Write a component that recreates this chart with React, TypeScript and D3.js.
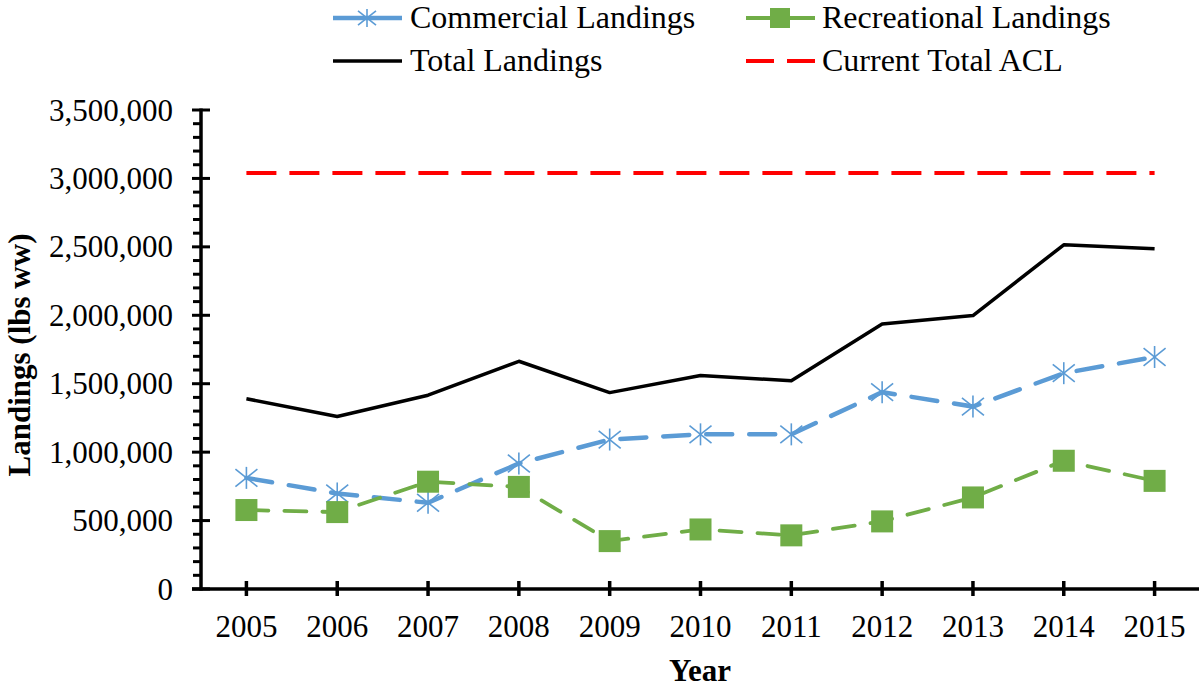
import * as d3 from "d3";
import { useEffect, useRef } from "react";

const years = ["2005", "2006", "2007", "2008", "2009", "2010", "2011", "2012", "2013", "2014", "2015"];
const commercial = [812000, 698000, 630000, 917000, 1092000, 1130000, 1130000, 1438000, 1333000, 1577000, 1695000];
const recreational = [577000, 562000, 784000, 746000, 350000, 435000, 392000, 494000, 669000, 937000, 790000];
const total = [1390000, 1260000, 1416000, 1664000, 1435000, 1560000, 1521000, 1937000, 1998000, 2515000, 2487000];
const acl = [3040000, 3040000, 3040000, 3040000, 3040000, 3040000, 3040000, 3040000, 3040000, 3040000, 3040000];
const yTicks = [0, 500000, 1000000, 1500000, 2000000, 2500000, 3000000, 3500000];

const W = 1199;
const H = 687;
const FONT = "'Liberation Serif', 'Times New Roman', serif";
const blue = "#5B9BD5";
const green = "#70AD47";

const App = () => {
	const ref = useRef<SVGSVGElement | null>(null);

	useEffect(() => {
		document.body.style.margin = "0";
		if (!ref.current) return;
		const svg = d3.select(ref.current);
		svg.selectAll("*").remove();

		const x = d3.scaleBand<string>().domain(years).range([201, 1200]);
		const cx = (d: string) => (x(d) ?? 0) + x.bandwidth() / 2;
		const y = d3.scaleLinear().domain([0, 3500000]).range([589, 110]);

		// minor ticks on the y axis
		const minor = d3.range(0, 3500001, 100000).filter((v) => v % 500000 !== 0);
		svg
			.append("g")
			.selectAll("line")
			.data(minor)
			.enter()
			.append("line")
			.attr("x1", 193)
			.attr("x2", 201)
			.attr("y1", (d) => y(d))
			.attr("y2", (d) => y(d))
			.attr("stroke", "#000")
			.attr("stroke-width", 3);

		// major ticks
		svg
			.append("g")
			.selectAll("line")
			.data(yTicks)
			.enter()
			.append("line")
			.attr("x1", 192)
			.attr("x2", 210)
			.attr("y1", (d) => y(d))
			.attr("y2", (d) => y(d))
			.attr("stroke", "#000")
			.attr("stroke-width", 3);

		svg
			.append("g")
			.selectAll("text")
			.data(yTicks)
			.enter()
			.append("text")
			.attr("x", 173)
			.attr("y", (d) => y(d))
			.attr("dy", "0.34em")
			.attr("text-anchor", "end")
			.style("font-family", FONT)
			.style("font-size", "31px")
			.text((d) => d3.format(",")(d));

		svg
			.append("line")
			.attr("x1", 201)
			.attr("x2", 201)
			.attr("y1", y(3500000) - 1.5)
			.attr("y2", y(0) + 1.5)
			.attr("stroke", "#000")
			.attr("stroke-width", 3.5);

		// x axis
		svg
			.append("line")
			.attr("x1", 192)
			.attr("x2", 1200)
			.attr("y1", y(0))
			.attr("y2", y(0))
			.attr("stroke", "#000")
			.attr("stroke-width", 3.5);

		svg
			.append("g")
			.selectAll("line")
			.data(years)
			.enter()
			.append("line")
			.attr("x1", cx)
			.attr("x2", cx)
			.attr("y1", y(0) - 8)
			.attr("y2", y(0) + 7)
			.attr("stroke", "#000")
			.attr("stroke-width", 3.5);

		svg
			.append("g")
			.selectAll("text")
			.data(years)
			.enter()
			.append("text")
			.attr("x", cx)
			.attr("y", 637)
			.attr("text-anchor", "middle")
			.style("font-family", FONT)
			.style("font-size", "31px")
			.text((d) => d);

		svg
			.append("text")
			.attr("x", 700)
			.attr("y", 681)
			.attr("text-anchor", "middle")
			.style("font-family", FONT)
			.style("font-size", "31px")
			.style("font-weight", "bold")
			.text("Year");

		svg
			.append("text")
			.attr("transform", "translate(30,355) rotate(-90)")
			.attr("text-anchor", "middle")
			.style("font-family", FONT)
			.style("font-size", "31px")
			.style("font-weight", "bold")
			.text("Landings (lbs ww)");

		const line = d3
			.line<number>()
			.x((_, i) => cx(years[i]))
			.y((d) => y(d));

		const star = (g: d3.Selection<any, any, any, any>, px: number, py: number, r: number) => {
			const p = g.append("g").attr("transform", `translate(${px},${py})`);
			const segs = [
				[0, -r, 0, r],
				[-r, -r * 0.8, r, r * 0.8],
				[-r, r * 0.8, r, -r * 0.8],
			];
			segs.forEach((s) =>
				p
					.append("line")
					.attr("x1", s[0])
					.attr("y1", s[1])
					.attr("x2", s[2])
					.attr("y2", s[3])
					.attr("stroke", blue)
					.attr("stroke-width", 1.6),
			);
		};

		// commercial
		svg
			.append("path")
			.attr("d", line(commercial))
			.attr("fill", "none")
			.attr("stroke", blue)
			.attr("stroke-width", 4.5)
			.attr("stroke-linecap", "round")
			.attr("stroke-dasharray", "26 17");
		const cm = svg.append("g");
		commercial.forEach((v, i) => star(cm, cx(years[i]), y(v), 11));

		// recreational
		svg
			.append("path")
			.attr("d", line(recreational))
			.attr("fill", "none")
			.attr("stroke", green)
			.attr("stroke-width", 3.8)
			.attr("stroke-linecap", "round")
			.attr("stroke-dasharray", "22 16");
		svg
			.append("g")
			.selectAll("rect")
			.data(recreational)
			.enter()
			.append("rect")
			.attr("x", (_, i) => cx(years[i]) - 11)
			.attr("y", (d) => y(d) - 11)
			.attr("width", 22)
			.attr("height", 22)
			.attr("fill", green);

		// total
		svg
			.append("path")
			.attr("d", line(total))
			.attr("fill", "none")
			.attr("stroke", "#000")
			.attr("stroke-width", 3.5)
			.attr("stroke-linejoin", "round");

		// ACL
		svg
			.append("path")
			.attr("d", line(acl))
			.attr("fill", "none")
			.attr("stroke", "#FF0000")
			.attr("stroke-width", 4)
			.attr("stroke-dasharray", "30 13");

		// legend
		const lg = svg.append("g").style("font-family", FONT).style("font-size", "32px");
		const rows = [18, 61];
		lg.append("line").attr("x1", 333).attr("x2", 402).attr("y1", rows[0]).attr("y2", rows[0]).attr("stroke", blue).attr("stroke-width", 4.5);
		star(lg, 367, rows[0], 9);
		lg.append("text").attr("x", 410).attr("y", rows[0] + 10).text("Commercial Landings");

		lg.append("line").attr("x1", 746).attr("x2", 815).attr("y1", rows[0]).attr("y2", rows[0]).attr("stroke", green).attr("stroke-width", 3.8);
		lg.append("rect").attr("x", 770).attr("y", rows[0] - 10).attr("width", 20).attr("height", 20).attr("fill", green);
		lg.append("text").attr("x", 822).attr("y", rows[0] + 10).text("Recreational Landings");

		lg.append("line").attr("x1", 333).attr("x2", 402).attr("y1", rows[1]).attr("y2", rows[1]).attr("stroke", "#000").attr("stroke-width", 3.5);
		lg.append("text").attr("x", 410).attr("y", rows[1] + 10).text("Total Landings");

		lg.append("line").attr("x1", 746).attr("x2", 815).attr("y1", rows[1]).attr("y2", rows[1]).attr("stroke", "#FF0000").attr("stroke-width", 4).attr("stroke-dasharray", "28 13");
		lg.append("text").attr("x", 822).attr("y", rows[1] + 10).text("Current Total ACL");
	}, []);

	return <svg ref={ref} width={W} height={H} style={{ display: "block", background: "#fff" }} />;
};

export default App;
